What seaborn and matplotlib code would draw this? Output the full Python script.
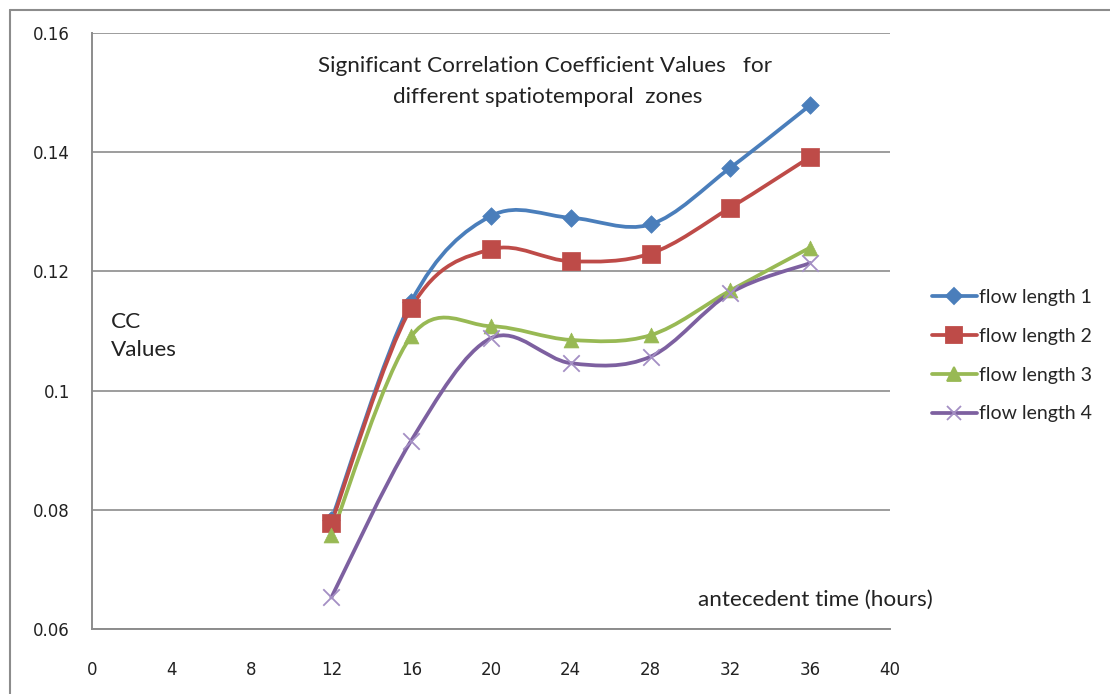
import numpy as np
import pandas as pd
import matplotlib
matplotlib.use("Agg")
import matplotlib.pyplot as plt
import seaborn as sns
from matplotlib.path import Path
from matplotlib.patches import PathPatch
from matplotlib.lines import Line2D

# ---- data ----
hours = [12, 16, 20, 24, 28, 32, 36]
flow1 = [0.0783, 0.1149, 0.1293, 0.1290, 0.1279, 0.1374, 0.1479]
flow2 = [0.0778, 0.1139, 0.1237, 0.1217, 0.1230, 0.1307, 0.1392]
flow3 = [0.0757, 0.1091, 0.1108, 0.1085, 0.1093, 0.1168, 0.1240]
flow4 = [0.0653, 0.0916, 0.1088, 0.1046, 0.1057, 0.1164, 0.1214]
series_names = ["flow length 1", "flow length 2", "flow length 3", "flow length 4"]
x_ticks = [0, 4, 8, 12, 16, 20, 24, 28, 32, 36, 40]
y_ticks = [0.06, 0.08, 0.1, 0.12, 0.14, 0.16]
y_tick_labels = ["0.06", "0.08", "0.1", "0.12", "0.14", "0.16"]

df = pd.DataFrame({"hours": hours * 4,
                   "cc": flow1 + flow2 + flow3 + flow4,
                   "series": sum([[n] * len(hours) for n in series_names], [])})

line_colors = ["#4A7EBB", "#BE4B48", "#98B954", "#7D60A0"]
marker_colors = ["#4A7EBB", "#BE4B48", "#98B954", "#A48FC4"]
markers = ["D", "s", "^", "x"]
msizes = [80, 160, 115, 140]

sns.set_style("white")
plt.rcParams["font.family"] = ["Lato", "DejaVu Sans"]

W, H = 1110, 694
fig = plt.figure(figsize=(W / 100, H / 100), dpi=100)
ax = fig.add_axes([92 / W, 1 - 629 / H, (890 - 92) / W, (629 - 33) / H])

def smooth_path(xs, ys):
    pts = np.column_stack([xs, ys]).astype(float)
    n = len(pts)
    verts = [pts[0]]
    codes = [Path.MOVETO]
    for i in range(n - 1):
        p0 = pts[i - 1] if i > 0 else pts[i]
        p1 = pts[i]
        p2 = pts[i + 1]
        p3 = pts[i + 2] if i + 2 < n else pts[i + 1]
        c1 = p1 + (p2 - p0) / 6.0
        c2 = p2 - (p3 - p1) / 6.0
        verts += [c1, c2, p2]
        codes += [Path.CURVE4] * 3
    return Path(verts, codes)

handles = []
for i, name in enumerate(series_names):
    sub = df[df["series"] == name]
    patch = PathPatch(smooth_path(sub["hours"].values, sub["cc"].values),
                      facecolor="none", edgecolor=line_colors[i], lw=2.7,
                      zorder=2, capstyle="round", joinstyle="round")
    ax.add_patch(patch)
    if markers[i] == "x":
        sns.scatterplot(data=sub, x="hours", y="cc", marker="x", s=msizes[i],
                        color=marker_colors[i], linewidth=1.3, ax=ax, zorder=3,
                        legend=False)
    else:
        sns.scatterplot(data=sub, x="hours", y="cc", marker=markers[i], s=msizes[i],
                        color=marker_colors[i], edgecolor=marker_colors[i],
                        linewidth=0.5, ax=ax, zorder=3, legend=False)
    ms = {"D": 8, "s": 11, "^": 10, "x": 10}[markers[i]]
    handles.append(Line2D([0], [0], color=line_colors[i], lw=2.7, marker=markers[i],
                          markersize=ms, markerfacecolor=marker_colors[i],
                          markeredgecolor=marker_colors[i], markeredgewidth=1.3))

ax.set_xlim(0, 40)
ax.set_ylim(0.06, 0.16)
ax.set_xticks(x_ticks)
ax.set_yticks(y_ticks)
ax.set_yticklabels(y_tick_labels)
ax.set_xlabel("")
ax.set_ylabel("")
ax.yaxis.grid(True, color="#8C8C8C", lw=1.2)
ax.xaxis.grid(False)
ax.set_axisbelow(True)
for s in ["top", "right"]:
    ax.spines[s].set_visible(False)
for s in ["left", "bottom"]:
    ax.spines[s].set_color("#8C8C8C")
    ax.spines[s].set_linewidth(1.4)
ax.tick_params(axis="both", which="major", direction="out", length=6, width=1.2,
               color="#8C8C8C", labelsize=12, labelcolor="#222222")
ax.tick_params(axis="x", pad=17)
ax.tick_params(axis="y", pad=10)
for lab in ax.get_xticklabels() + ax.get_yticklabels():
    lab.set_fontfamily("DejaVu Sans")

txt = dict(fontsize=16.2, color="#222222")
fig.text(545 / W, 1 - 66 / H, "Significant Correlation Coefficient Values   for",
         ha="center", va="center", **txt)
fig.text(548 / W, 1 - 97 / H, "different spatiotemporal  zones",
         ha="center", va="center", **txt)
fig.text(111 / W, 1 - 322 / H, "CC", ha="left", va="center", **txt)
fig.text(111 / W, 1 - 350 / H, "Values", ha="left", va="center", **txt)
fig.text(698 / W, 1 - 600 / H, "antecedent time (hours)", ha="left", va="center", **txt)

fig.legend(handles=handles, labels=series_names, loc="upper left",
           bbox_to_anchor=(932 / W, 1 - 289 / H), frameon=False, fontsize=14,
           handlelength=2.3, handletextpad=0.1, labelspacing=1.12,
           borderaxespad=0, borderpad=0)

# outer chart frame (top and left edges visible)
fig.add_artist(Line2D([10 / W, 10 / W], [0, 1 - 10 / H], transform=fig.transFigure,
                      color="#8C8C8C", lw=1.5))
fig.add_artist(Line2D([10 / W, 1], [1 - 10 / H, 1 - 10 / H], transform=fig.transFigure,
                      color="#8C8C8C", lw=1.5))

fig.savefig("out.png", dpi=100, facecolor="white")
